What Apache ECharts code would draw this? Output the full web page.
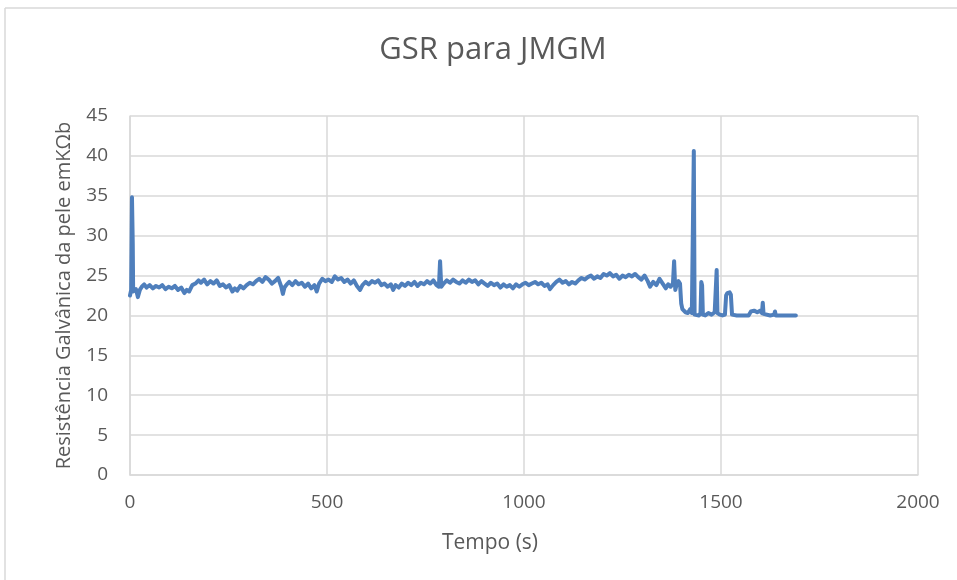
<!DOCTYPE html>
<html>
<head>
<meta charset="utf-8">
<script src="https://cdn.jsdelivr.net/npm/echarts@6/dist/echarts.min.js"></script>
<style>
    html, body {margin: 0; padding: 0; background: #fff;}
    #gsr-chart {width: 957px; height: 580px;}
</style>
</head>
<body>
<div id="gsr-chart"></div>
<script>
// ticks dos eixos
const ticksTempo = [0, 500, 1000, 1500, 2000];
const ticksGsr = [0, 5, 10, 15, 20, 25, 30, 35, 40, 45];

// leituras [tempo (s), resistencia (kOhm)]
const leituras = [
    [0, 22.5], [3, 23.2], [5, 34.8], [7, 29.0], [8, 23.0], [11, 22.8], [15, 23.3], [20, 22.3],
    [25, 23.2], [30, 23.6], [36, 23.9], [42, 23.5], [50, 23.8], [58, 23.4], [66, 23.7], [74, 23.5],
    [82, 23.8], [90, 23.3], [98, 23.6], [106, 23.4], [114, 23.7], [122, 23.2], [130, 23.5], [138, 22.8],
    [144, 23.2], [150, 23.0], [158, 23.8], [166, 24.0], [174, 24.4], [180, 24.1], [188, 24.5], [196, 23.9],
    [204, 24.3], [212, 24.0], [220, 24.4], [228, 23.7], [236, 23.9], [244, 23.5], [252, 23.8], [260, 23.0],
    [266, 23.4], [272, 23.1], [280, 23.7], [288, 23.4], [296, 23.8], [304, 24.1], [312, 23.9], [320, 24.3],
    [328, 24.6], [336, 24.2], [344, 24.8], [352, 24.5], [360, 24.0], [368, 24.3], [376, 24.7], [384, 23.6],
    [388, 22.7], [392, 23.5], [398, 23.9], [404, 24.2], [412, 23.8], [420, 24.3], [428, 23.9], [436, 24.1],
    [444, 23.6], [452, 24.0], [460, 23.4], [468, 23.8], [474, 23.0], [480, 24.0], [488, 24.6], [496, 24.3],
    [504, 24.5], [512, 24.2], [520, 24.9], [528, 24.5], [536, 24.7], [544, 24.2], [552, 24.5], [560, 24.0],
    [568, 24.4], [576, 23.7], [584, 23.2], [590, 23.8], [598, 24.2], [606, 23.9], [614, 24.3], [622, 24.1],
    [630, 24.4], [638, 23.8], [646, 24.0], [654, 23.6], [662, 23.9], [668, 23.2], [674, 23.8], [682, 23.5],
    [690, 24.0], [698, 23.7], [706, 24.1], [714, 23.8], [722, 24.2], [730, 23.7], [738, 24.1], [746, 23.9],
    [754, 24.3], [762, 24.0], [770, 24.4], [778, 23.8], [784, 23.6], [787, 26.8], [790, 23.6], [796, 24.0],
    [804, 24.4], [812, 24.1], [820, 24.5], [828, 24.2], [836, 24.0], [844, 24.4], [852, 24.1], [860, 24.5],
    [868, 24.2], [876, 24.4], [884, 23.9], [892, 24.3], [900, 24.0], [908, 23.7], [916, 24.1], [924, 23.8],
    [932, 24.0], [940, 23.5], [948, 23.9], [956, 23.6], [964, 23.8], [972, 23.4], [980, 23.9], [988, 23.6],
    [996, 23.9], [1004, 24.1], [1012, 23.8], [1020, 24.0], [1028, 24.2], [1036, 23.9], [1044, 24.1], [1052, 23.7],
    [1060, 23.9], [1066, 23.3], [1074, 23.8], [1082, 24.2], [1090, 24.5], [1098, 24.1], [1106, 24.3], [1114, 23.9],
    [1122, 24.2], [1130, 24.0], [1138, 24.4], [1146, 24.7], [1154, 24.5], [1162, 24.8], [1170, 25.0], [1178, 24.6],
    [1186, 24.9], [1194, 24.7], [1202, 25.2], [1210, 25.0], [1218, 25.3], [1226, 24.9], [1234, 25.1], [1242, 24.6],
    [1250, 25.0], [1258, 24.8], [1266, 25.1], [1274, 24.9], [1282, 25.2], [1290, 24.8], [1298, 24.5], [1306, 25.0],
    [1314, 24.3], [1320, 23.6], [1328, 24.2], [1336, 23.8], [1344, 24.6], [1352, 24.0], [1360, 23.4], [1366, 23.9],
    [1372, 23.6], [1378, 24.0], [1381, 26.8], [1384, 23.2], [1388, 24.0], [1392, 24.3], [1396, 24.0], [1399, 21.5],
    [1402, 20.8], [1406, 21.0], [1410, 20.4], [1416, 20.3], [1422, 20.8], [1426, 20.3], [1429, 20.1], [1431, 40.6],
    [1433, 20.1], [1438, 20.2], [1444, 20.0], [1448, 20.3], [1450, 24.2], [1452, 23.8], [1454, 20.1], [1460, 20.0],
    [1468, 20.3], [1476, 20.1], [1484, 20.4], [1487, 20.2], [1489, 25.7], [1491, 20.3], [1497, 20.1], [1504, 20.0],
    [1510, 20.1], [1513, 22.5], [1516, 22.8], [1522, 22.9], [1525, 22.6], [1528, 20.1], [1540, 20.0], [1555, 20.0],
    [1570, 20.0], [1576, 20.5], [1584, 20.6], [1592, 20.4], [1600, 20.6], [1604, 20.3], [1606, 21.6], [1608, 20.2],
    [1612, 20.0], [1625, 20.0], [1635, 20.1], [1637, 20.5], [1639, 20.0], [1655, 20.0], [1670, 20.0], [1690, 20.0]
];

const corTexto = '#595959';
const corGrade = '#d9d9d9';
const fonte = '"Open Sans", "Noto Sans", sans-serif';

var myChart = echarts.init(document.getElementById('gsr-chart'));
myChart.setOption({
    animation: false,
    title: {
        text: 'GSR para JMGM',
        left: 488,
        top: 30,
        textAlign: 'center',
        textStyle: {color: corTexto, fontSize: 31, fontWeight: 'normal', fontFamily: fonte}
    },
    grid: {
        left: 130,
        right: 39,
        top: 116,
        bottom: 105
    },
    xAxis: {
        type: 'value',
        min: ticksTempo[0],
        max: ticksTempo[ticksTempo.length - 1],
        interval: 500,
        name: 'Tempo (s)',
        nameLocation: 'middle',
        nameGap: 58,
        // o titulo do eixo fica um pouco a esquerda do centro da grade
        nameTextStyle: {color: corTexto, fontSize: 21, fontFamily: fonte, padding: [0, 68, 0, 0]},
        axisLine: {show: true, lineStyle: {color: corGrade, width: 1.5}},
        axisTick: {show: false},
        axisLabel: {color: corTexto, fontSize: 19, fontFamily: fonte, margin: 18, formatter: (v) => String(v)},
        splitLine: {show: true, lineStyle: {color: corGrade, width: 1.5}}
    },
    yAxis: {
        type: 'value',
        min: ticksGsr[0],
        max: ticksGsr[ticksGsr.length - 1],
        interval: 5,
        name: 'Resistência Galvânica da pele emKΩb',
        nameLocation: 'middle',
        nameGap: 56,
        nameTextStyle: {color: corTexto, fontSize: 20, fontFamily: fonte},
        axisLine: {show: true, lineStyle: {color: corGrade, width: 1.5}},
        axisTick: {show: false},
        axisLabel: {color: corTexto, fontSize: 19, fontFamily: fonte, margin: 22, formatter: (v) => String(v)},
        splitLine: {show: true, lineStyle: {color: corGrade, width: 1.5}}
    },
    graphic: [
        {type: 'line', shape: {x1: 5, y1: 8, x2: 957, y2: 8}, style: {stroke: corGrade, lineWidth: 1.5}},
        {type: 'line', shape: {x1: 5, y1: 8, x2: 5, y2: 580}, style: {stroke: corGrade, lineWidth: 1.5}}
    ],
    series: [
        {
            type: 'line',
            data: leituras,
            showSymbol: false,
            lineStyle: {color: '#4f7fbc', width: 4, cap: 'round', join: 'round'},
            itemStyle: {color: '#4f7fbc'}
        }
    ]
});
</script>
</body>
</html>
